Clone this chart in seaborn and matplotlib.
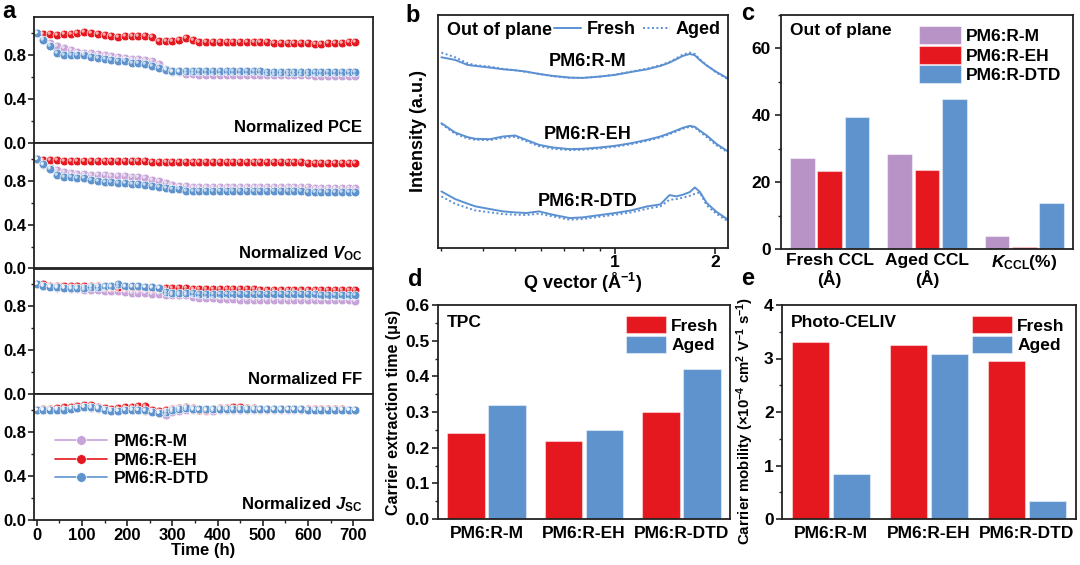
import numpy as np
import pandas as pd
import matplotlib
matplotlib.use("Agg")
import matplotlib.pyplot as plt
import seaborn as sns
from matplotlib.lines import Line2D
from matplotlib.ticker import FixedLocator, MultipleLocator, NullFormatter, FormatStrFormatter
from matplotlib.markers import MarkerStyle
from matplotlib.transforms import Affine2D

# ---------------- data ----------------
samples = ["PM6:R-M", "PM6:R-EH", "PM6:R-DTD"]

time_h = [0, 15, 30, 45, 60, 75, 90, 105, 120, 135, 150, 165, 180, 195, 210, 225,
          240, 255, 270, 285, 300, 315, 330, 345, 360, 375, 390, 405, 420, 435, 450, 465,
          480, 495, 510, 525, 540, 555, 570, 585, 600, 615, 630, 645, 660, 675, 690, 705]

pce_M = [1.00, 0.95, 0.91, 0.88, 0.86, 0.84, 0.83, 0.82,
         0.82, 0.81, 0.80, 0.79, 0.78, 0.77, 0.76, 0.76,
         0.75, 0.74, 0.72, 0.67, 0.64, 0.64, 0.63, 0.63,
         0.62, 0.62, 0.62, 0.62, 0.62, 0.62, 0.62, 0.62,
         0.62, 0.62, 0.62, 0.62, 0.62, 0.62, 0.62, 0.62,
         0.62, 0.61, 0.61, 0.61, 0.61, 0.61, 0.61, 0.61]
pce_EH = [1.00, 0.99, 0.99, 0.98, 0.99, 0.99, 1.00, 1.01,
          1.00, 0.99, 0.98, 0.97, 0.96, 0.97, 0.97, 0.97,
          0.97, 0.96, 0.93, 0.93, 0.93, 0.94, 0.95, 0.94,
          0.92, 0.92, 0.92, 0.92, 0.92, 0.92, 0.92, 0.92,
          0.92, 0.92, 0.92, 0.91, 0.91, 0.91, 0.91, 0.91,
          0.91, 0.90, 0.90, 0.91, 0.91, 0.91, 0.92, 0.92]
pce_DTD = [1.00, 0.94, 0.88, 0.82, 0.80, 0.80, 0.80, 0.80,
           0.78, 0.77, 0.76, 0.75, 0.74, 0.74, 0.73, 0.73,
           0.72, 0.70, 0.68, 0.66, 0.65, 0.65, 0.65, 0.65,
           0.65, 0.65, 0.65, 0.65, 0.65, 0.65, 0.65, 0.65,
           0.65, 0.65, 0.64, 0.64, 0.64, 0.64, 0.64, 0.64,
           0.64, 0.64, 0.64, 0.64, 0.64, 0.64, 0.64, 0.64]

voc_M = [1.00, 0.94, 0.92, 0.90, 0.88, 0.87, 0.86, 0.86,
         0.85, 0.85, 0.85, 0.84, 0.84, 0.84, 0.83, 0.83,
         0.82, 0.81, 0.80, 0.78, 0.76, 0.75, 0.75, 0.74,
         0.74, 0.74, 0.74, 0.74, 0.74, 0.74, 0.74, 0.74,
         0.74, 0.74, 0.74, 0.74, 0.74, 0.74, 0.74, 0.74,
         0.74, 0.73, 0.73, 0.73, 0.73, 0.73, 0.73, 0.73]
voc_EH = [1.00, 0.99, 0.99, 0.99, 0.98, 0.98, 0.98, 0.98,
          0.98, 0.98, 0.98, 0.98, 0.98, 0.98, 0.98, 0.98,
          0.98, 0.97, 0.97, 0.97, 0.97, 0.97, 0.97, 0.97,
          0.97, 0.97, 0.97, 0.97, 0.97, 0.97, 0.97, 0.97,
          0.97, 0.97, 0.97, 0.97, 0.97, 0.97, 0.97, 0.97,
          0.96, 0.96, 0.96, 0.96, 0.96, 0.96, 0.96, 0.96]
voc_DTD = [1.00, 0.95, 0.91, 0.85, 0.83, 0.83, 0.82, 0.82,
           0.81, 0.80, 0.79, 0.79, 0.78, 0.78, 0.77, 0.77,
           0.76, 0.75, 0.74, 0.73, 0.72, 0.72, 0.71, 0.71,
           0.71, 0.71, 0.71, 0.71, 0.71, 0.71, 0.71, 0.71,
           0.71, 0.71, 0.71, 0.71, 0.71, 0.71, 0.71, 0.71,
           0.70, 0.70, 0.70, 0.70, 0.70, 0.70, 0.70, 0.70]

ff_M = [1.00, 0.99, 0.98, 0.97, 0.97, 0.96, 0.96, 0.95,
        0.95, 0.95, 0.94, 0.94, 0.94, 0.93, 0.92, 0.92,
        0.92, 0.91, 0.91, 0.90, 0.90, 0.90, 0.90, 0.89,
        0.88, 0.88, 0.88, 0.87, 0.87, 0.87, 0.86, 0.86,
        0.86, 0.86, 0.86, 0.86, 0.86, 0.86, 0.86, 0.86,
        0.86, 0.86, 0.86, 0.86, 0.86, 0.86, 0.86, 0.85]
ff_EH = [1.00, 1.00, 0.99, 0.99, 0.99, 0.99, 0.99, 0.99,
         0.99, 0.99, 0.98, 0.98, 0.98, 0.98, 0.98, 0.98,
         0.98, 0.97, 0.97, 0.97, 0.97, 0.97, 0.97, 0.96,
         0.96, 0.96, 0.96, 0.96, 0.96, 0.96, 0.96, 0.96,
         0.96, 0.95, 0.95, 0.95, 0.95, 0.95, 0.95, 0.95,
         0.95, 0.95, 0.95, 0.95, 0.95, 0.95, 0.95, 0.95]
ff_DTD = [1.00, 0.99, 0.98, 0.98, 0.97, 0.97, 0.97, 0.97,
          0.98, 0.98, 0.99, 0.99, 1.00, 0.99, 0.99, 0.99,
          0.98, 0.98, 0.97, 0.93, 0.92, 0.92, 0.92, 0.92,
          0.91, 0.91, 0.91, 0.91, 0.91, 0.91, 0.91, 0.91,
          0.91, 0.91, 0.91, 0.91, 0.91, 0.91, 0.91, 0.91,
          0.91, 0.91, 0.90, 0.90, 0.90, 0.90, 0.90, 0.90]

jsc_M = [1.00, 1.00, 1.00, 1.01, 1.01, 1.02, 1.02, 1.03,
         1.02, 1.01, 1.00, 0.99, 0.99, 1.00, 1.00, 1.00,
         0.99, 0.98, 0.97, 0.96, 0.98, 0.99, 1.00, 1.00,
         1.00, 0.99, 0.99, 1.00, 1.00, 1.00, 1.00, 1.00,
         1.00, 1.00, 1.00, 1.00, 1.00, 1.00, 1.00, 1.00,
         1.00, 1.00, 1.00, 1.00, 1.00, 1.00, 1.00, 1.00]
jsc_EH = [1.00, 1.01, 1.01, 1.02, 1.03, 1.03, 1.04, 1.05,
          1.05, 1.03, 1.02, 1.01, 1.02, 1.03, 1.03, 1.04,
          1.04, 1.00, 0.99, 1.00, 1.01, 1.02, 1.03, 1.02,
          1.00, 1.00, 1.01, 1.02, 1.02, 1.03, 1.03, 1.02,
          1.02, 1.01, 1.01, 1.01, 1.01, 1.01, 1.01, 1.01,
          1.01, 1.01, 1.01, 1.01, 1.01, 1.01, 1.00, 1.00]
jsc_DTD = [1.00, 1.00, 1.00, 1.00, 1.00, 1.01, 1.02, 1.03,
           1.03, 1.02, 1.00, 0.99, 0.99, 1.00, 1.00, 1.00,
           1.00, 0.98, 0.97, 0.98, 1.00, 1.01, 1.02, 1.01,
           1.01, 1.01, 1.01, 1.01, 1.01, 1.01, 1.01, 1.01,
           1.01, 1.01, 1.01, 1.01, 1.01, 1.01, 1.01, 1.01,
           1.00, 1.00, 1.00, 1.00, 1.00, 1.00, 1.00, 1.00]

# GIWAXS out-of-plane line cuts (offset, arbitrary units)
q_vec = [0.30, 0.33, 0.36, 0.38, 0.42, 0.46, 0.50, 0.54, 0.59, 0.65, 0.73, 0.80, 0.90,
         1.00, 1.12, 1.25, 1.37, 1.46, 1.53, 1.60, 1.68, 1.74, 1.80, 1.89, 2.02, 2.19]
I_M_fresh = [5.73, 5.65, 5.50, 5.47, 5.42, 5.37, 5.34, 5.30, 5.23, 5.17, 5.12, 5.11, 5.15,
             5.20, 5.29, 5.37, 5.47, 5.57, 5.67, 5.77, 5.83, 5.79, 5.65, 5.48, 5.29, 5.09]
I_M_aged = [5.87, 5.73, 5.55, 5.49, 5.45, 5.38, 5.34, 5.29, 5.23, 5.16, 5.11, 5.11, 5.15,
            5.21, 5.30, 5.39, 5.49, 5.59, 5.70, 5.81, 5.87, 5.83, 5.67, 5.49, 5.27, 5.07]
I_EH_fresh = [3.75, 3.47, 3.33, 3.28, 3.27, 3.35, 3.38, 3.25, 3.10, 3.02, 2.97, 2.98, 3.02,
              3.07, 3.15, 3.25, 3.35, 3.45, 3.53, 3.61, 3.67, 3.64, 3.53, 3.38, 3.13, 2.90]
I_EH_aged = [3.73, 3.43, 3.29, 3.25, 3.24, 3.31, 3.34, 3.21, 3.06, 2.98, 2.94, 2.95, 2.99,
             3.04, 3.12, 3.22, 3.32, 3.42, 3.50, 3.58, 3.64, 3.62, 3.50, 3.33, 3.09, 2.87]
I_DTD_fresh = [1.70, 1.47, 1.33, 1.25, 1.17, 1.10, 1.07, 1.05, 1.10, 1.00, 0.90, 0.92, 0.99,
               1.05, 1.13, 1.25, 1.31, 1.59, 1.55, 1.60, 1.68, 1.82, 1.69, 1.35, 1.09, 0.85]
I_DTD_aged = [1.55, 1.33, 1.20, 1.13, 1.07, 1.02, 1.00, 0.99, 1.03, 0.95, 0.85, 0.87, 0.94,
              1.00, 1.07, 1.18, 1.25, 1.45, 1.47, 1.51, 1.57, 1.63, 1.67, 1.28, 1.03, 0.80]

# CCL (panel c)
ccl_groups = ["Fresh CCL", "Aged CCL", "KCCL"]
ccl_ticklabels = ["Fresh CCL\n(Å)", "Aged CCL\n(Å)", r"$\mathit{K}_{\mathrm{CCL}}$(%)"]
ccl_M = [27.3, 28.4, 4.0]
ccl_EH = [23.3, 23.5, 0.6]
ccl_DTD = [39.4, 44.9, 13.9]

# TPC (panel d) and photo-CELIV (panel e)
states = ["Fresh", "Aged"]
tpc_fresh = [0.24, 0.22, 0.30]
tpc_aged = [0.32, 0.25, 0.42]
mob_fresh = [3.31, 3.26, 2.96]
mob_aged = [0.85, 3.09, 0.33]

# ---------------- style ----------------
sns.set_style("ticks")
plt.rcParams.update({
    "font.family": ["Liberation Sans", "DejaVu Sans"],
    "font.weight": "bold",
    "axes.labelweight": "bold",
    "mathtext.fontset": "custom",
    "mathtext.rm": "Liberation Sans:bold",
    "mathtext.it": "Liberation Sans:italic:bold",
    "mathtext.bf": "Liberation Sans:bold",
    "axes.linewidth": 1.3,
    "axes.edgecolor": "#222222",
    "xtick.color": "#222222", "ytick.color": "#222222",
    "xtick.labelcolor": "black", "ytick.labelcolor": "black",
    "text.color": "black", "axes.labelcolor": "black",
    "xtick.direction": "out", "ytick.direction": "out",
    "xtick.major.width": 1.2, "ytick.major.width": 1.2,
    "xtick.minor.width": 1.0, "ytick.minor.width": 1.0,
    "xtick.major.size": 4, "ytick.major.size": 4,
    "xtick.minor.size": 2.5, "ytick.minor.size": 2.5,
    "xtick.labelsize": 12, "ytick.labelsize": 12,
})

C_M_line = "#C6A3D8"
C_M_bar = "#B894C6"
C_EH = "#E5171F"
C_DTD = "#5E93CD"
C_b = "#5B90D3"
pal_a = {"PM6:R-M": C_M_line, "PM6:R-EH": C_EH, "PM6:R-DTD": C_DTD}
pal_c = {"PM6:R-M": C_M_bar, "PM6:R-EH": C_EH, "PM6:R-DTD": C_DTD}
pal_de = {"Fresh": C_EH, "Aged": C_DTD}

W, H = 1080, 565
fig = plt.figure(figsize=(W / 100, H / 100), dpi=100)


def rect(x0, y0, x1, y1):
    return [x0 / W, 1 - y1 / H, (x1 - x0) / W, (y1 - y0) / H]


# ---------------- panel a ----------------
a_top, a_bot = 17, 520
hh = (a_bot - a_top) / 4
metrics = [
    ("Normalized PCE", [pce_M, pce_EH, pce_DTD]),
    (r"Normalized $\mathit{V}_{\mathrm{OC}}$", [voc_M, voc_EH, voc_DTD]),
    ("Normalized FF", [ff_M, ff_EH, ff_DTD]),
    (r"Normalized $\mathit{J}_{\mathrm{SC}}$", [jsc_M, jsc_EH, jsc_DTD]),
]
hl_marker = MarkerStyle("o", transform=Affine2D().scale(0.38).translate(-0.16, 0.16))
axes_a = []
for i, (label, series) in enumerate(metrics):
    ax = fig.add_axes(rect(34, a_top + i * hh, 373, a_top + (i + 1) * hh))
    axes_a.append(ax)
    df = pd.DataFrame({
        "t": time_h * 3,
        "v": series[0] + series[1] + series[2],
        "s": [samples[0]] * len(time_h) + [samples[1]] * len(time_h) + [samples[2]] * len(time_h),
    })
    sns.lineplot(data=df, x="t", y="v", hue="s", palette=pal_a, marker="o",
                 markersize=6.3, markeredgewidth=0.5, markeredgecolor="white",
                 linewidth=1.0, sort=False, legend=False, ax=ax)
    for s, vals in zip(samples, series):
        ax.plot(time_h, vals, linestyle="none", marker=hl_marker, markersize=6.3,
                markerfacecolor=(1, 1, 1, 0.65), markeredgecolor="none")
    ax.set_xlim(-6, 744)
    ax.set_ylim(0, 1.145)
    ax.yaxis.set_major_locator(FixedLocator([0.0, 0.4, 0.8]))
    ax.yaxis.set_minor_locator(FixedLocator([0.2, 0.6, 1.0]))
    ax.yaxis.set_major_formatter(FormatStrFormatter("%.1f"))
    ax.tick_params(axis="y", pad=1.5)
    ax.xaxis.set_major_locator(MultipleLocator(100))
    ax.xaxis.set_minor_locator(MultipleLocator(50))
    ax.set_ylabel("")
    ax.set_xlabel("")
    ax.text(0.968, 0.085, label, transform=ax.transAxes, ha="right", va="baseline",
            fontsize=12)
    if i < 3:
        ax.tick_params(axis="x", which="both", length=0, labelbottom=False)
    for sp in ax.spines.values():
        sp.set_visible(True)

axes_a[3].set_xlabel("Time (h)", fontsize=12, labelpad=0)
axes_a[3].tick_params(axis="x", pad=2)
leg_handles = [Line2D([], [], color=pal_a[s], marker="o", markersize=7,
                      markeredgecolor="white", markeredgewidth=0.5, linewidth=1.2)
               for s in samples]
axes_a[3].legend(leg_handles, samples, loc="upper left", bbox_to_anchor=(0.04, 0.74),
                 frameon=False, fontsize=12.5, handlelength=3.0, handletextpad=0.4,
                 labelspacing=0.2, borderaxespad=0)

# ---------------- panel b ----------------
axb = fig.add_axes(rect(438, 15, 728, 248))
rows = []
for s, fr, ag in [(samples[0], I_M_fresh, I_M_aged),
                  (samples[1], I_EH_fresh, I_EH_aged),
                  (samples[2], I_DTD_fresh, I_DTD_aged)]:
    for qq, v in zip(q_vec, fr):
        rows.append((qq, v, s, "Fresh"))
    for qq, v in zip(q_vec, ag):
        rows.append((qq, v, s, "Aged"))
dfb = pd.DataFrame(rows, columns=["q", "I", "sample", "state"])
dfb["unit"] = dfb["sample"] + dfb["state"]
sns.lineplot(data=dfb, x="q", y="I", units="unit", estimator=None, style="state",
             dashes={"Fresh": "", "Aged": (1.0, 1.3)}, color=C_b, linewidth=1.4,
             sort=False, legend=False, ax=axb)
axb.set_xscale("log")
axb.set_xlim(0.293, 2.19)
axb.set_ylim(0, 7)
axb.xaxis.set_major_locator(FixedLocator([1, 2]))
axb.xaxis.set_major_formatter(FormatStrFormatter("%d"))
axb.xaxis.set_minor_formatter(NullFormatter())
axb.set_yticks([])
axb.set_xlabel(r"Q vector (Å$^{-1}$)", fontsize=13, labelpad=1)
axb.set_ylabel("Intensity (a.u.)", fontsize=13, labelpad=8)
axb.tick_params(axis="x", labelsize=12.5, pad=1)
for s, yy in zip(samples, [5.6, 3.4, 1.4]):
    axb.text(0.83, yy, s, ha="center", va="center", fontsize=13)
axb.text(0.03, 0.935, "Out of plane", transform=axb.transAxes, ha="left", va="center",
         fontsize=13)
hb = [Line2D([], [], color=C_b, linewidth=1.4),
      Line2D([], [], color=C_b, linewidth=1.4, linestyle=(0, (1.0, 1.3)))]
axb.legend(hb, states, ncol=2, loc="upper right", bbox_to_anchor=(1.01, 1.02),
           frameon=False, fontsize=13, handlelength=1.5, handletextpad=0.3,
           columnspacing=0.4, borderaxespad=0.2)

# ---------------- panel c ----------------
axc = fig.add_axes(rect(781, 15, 1073, 249))
dfc = pd.DataFrame({
    "metric": ccl_groups * 3,
    "value": ccl_M + ccl_EH + ccl_DTD,
    "sample": [samples[0]] * 3 + [samples[1]] * 3 + [samples[2]] * 3,
})
sns.barplot(data=dfc, x="metric", y="value", hue="sample", palette=pal_c, saturation=1,
            width=0.84, gap=0.1, edgecolor=(1, 1, 1, 0.45), linewidth=0.8,
            ax=axc)
axc.set_ylim(0, 70)
axc.set_xlim(-0.5, 2.5)
axc.yaxis.set_major_locator(MultipleLocator(20))
axc.yaxis.set_minor_locator(MultipleLocator(10))
axc.set_xticks([0, 1, 2])
axc.set_xticklabels(ccl_ticklabels, fontsize=12.5, linespacing=1.1)
axc.tick_params(axis="x", length=0, pad=3)
axc.tick_params(axis="y", labelsize=12.5)
axc.set_xlabel("")
axc.set_ylabel("")
axc.text(0.03, 0.935, "Out of plane", transform=axc.transAxes, ha="left", va="center",
         fontsize=12.5)
sns.move_legend(axc, "upper right", bbox_to_anchor=(1.0, 1.0), title=None,
                frameon=False, fontsize=12.5, handlelength=2.4, handleheight=1.2,
                labelspacing=0.1, handletextpad=0.3, borderaxespad=0.25)

# ---------------- panel d ----------------
axd = fig.add_axes(rect(438, 305, 730, 519))
dfd = pd.DataFrame({
    "sample": samples * 2,
    "value": tpc_fresh + tpc_aged,
    "state": ["Fresh"] * 3 + ["Aged"] * 3,
})
sns.barplot(data=dfd, x="sample", y="value", hue="state", palette=pal_de, saturation=1,
            width=0.84, gap=0.08, edgecolor=(1, 1, 1, 0.45), linewidth=0.8, ax=axd)
axd.set_ylim(0, 0.6)
axd.set_xlim(-0.5, 2.5)
axd.yaxis.set_major_locator(MultipleLocator(0.1))
axd.yaxis.set_minor_locator(MultipleLocator(0.05))
axd.yaxis.set_major_formatter(FormatStrFormatter("%.1f"))
axd.tick_params(axis="x", length=0, labelsize=12.5, pad=5)
axd.tick_params(axis="y", labelsize=12.5, pad=2)
axd.set_xlabel("")
axd.set_ylabel("Carrier extraction time (μs)", fontsize=11.5, labelpad=3)
axd.text(0.03, 0.92, "TPC", transform=axd.transAxes, ha="left", va="center", fontsize=12.5)
sns.move_legend(axd, "upper right", bbox_to_anchor=(1.0, 1.0), title=None,
                frameon=False, fontsize=12.5, handlelength=2.3, handleheight=1.1,
                labelspacing=0.15, handletextpad=0.3, borderaxespad=0.25)

# ---------------- panel e ----------------
axe = fig.add_axes(rect(782, 305, 1076, 519))
dfe = pd.DataFrame({
    "sample": samples * 2,
    "value": mob_fresh + mob_aged,
    "state": ["Fresh"] * 3 + ["Aged"] * 3,
})
sns.barplot(data=dfe, x="sample", y="value", hue="state", palette=pal_de, saturation=1,
            width=0.84, gap=0.1, edgecolor=(1, 1, 1, 0.45), linewidth=0.8, ax=axe)
axe.set_ylim(0, 4)
axe.set_xlim(-0.5, 2.5)
axe.yaxis.set_major_locator(MultipleLocator(1))
axe.yaxis.set_minor_locator(MultipleLocator(0.5))
axe.tick_params(axis="x", length=0, labelsize=12.5, pad=5)
axe.tick_params(axis="y", labelsize=12.5, pad=2)
axe.set_xlabel("")
axe.set_ylabel(r"Carrier mobility (×10$^{-4}$ cm$^{2}$ V$^{-1}$ s$^{-1}$)",
               fontsize=10.8)
axe.yaxis.set_label_coords(-0.09, 0.46)
axe.text(0.03, 0.92, "Photo-CELIV", transform=axe.transAxes, ha="left", va="center",
         fontsize=12.5)
sns.move_legend(axe, "upper right", bbox_to_anchor=(1.0, 1.0), title=None,
                frameon=False, fontsize=12.5, handlelength=2.3, handleheight=1.1,
                labelspacing=0.15, handletextpad=0.3, borderaxespad=0.25)

for ax in [axb, axc, axd, axe]:
    for sp in ax.spines.values():
        sp.set_visible(True)

# panel letters
for letter, x, y in [("a", 9, 12), ("b", 413, 15), ("c", 748, 14), ("d", 415, 280), ("e", 748, 279)]:
    fig.text(x / W, 1 - y / H, letter, fontsize=17, fontweight="bold", ha="center", va="center")

fig.savefig("out.png", dpi=100)
